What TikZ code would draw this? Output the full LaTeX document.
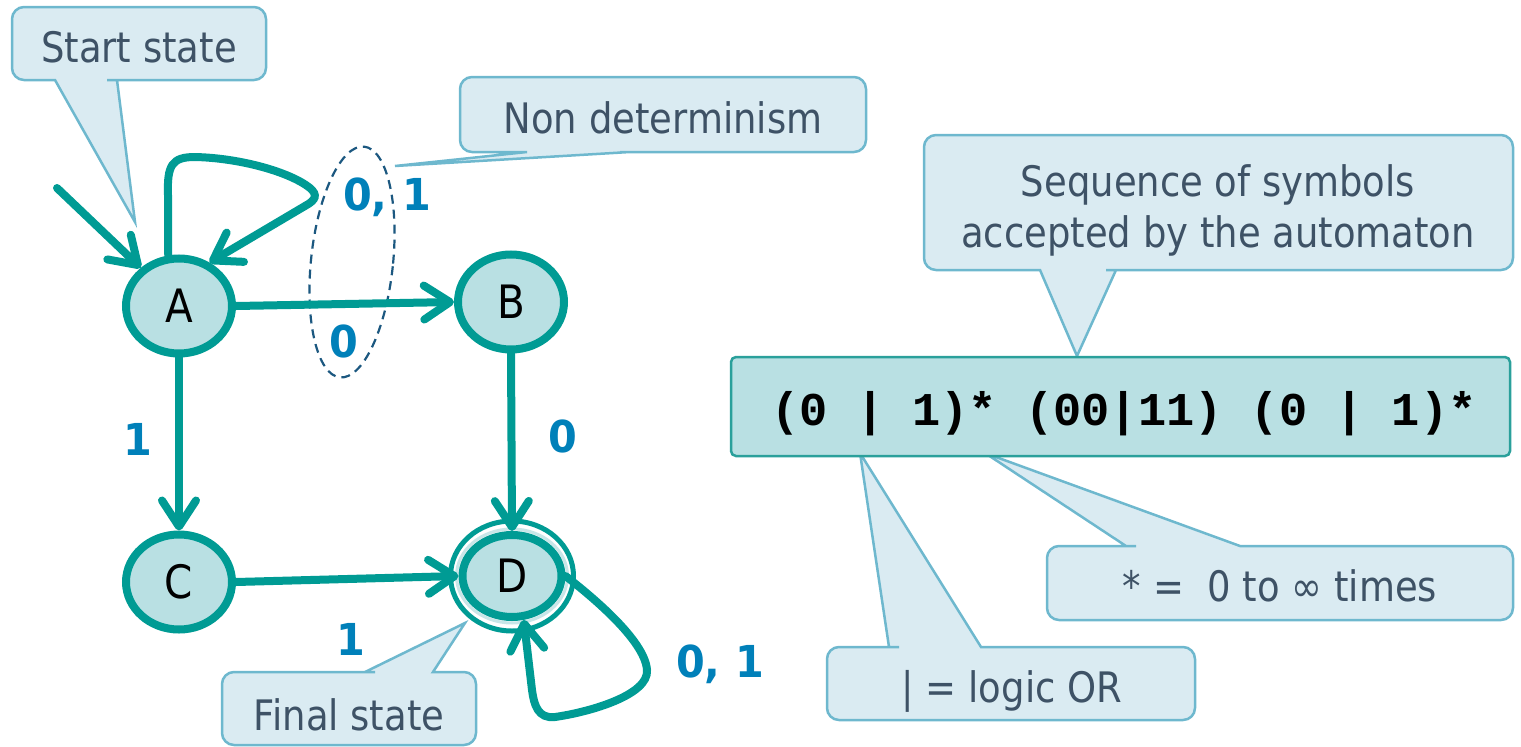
\documentclass[tikz,border=0pt]{standalone}
\usepackage{fontspec}
\setmainfont{DejaVu Sans}[FakeStretch=0.88]
\newfontfamily\lblfont{DejaVu Sans}[FakeStretch=0.94]
\newfontfamily\codefont{Liberation Mono}
\usetikzlibrary{shapes.geometric,arrows.meta}
\definecolor{tealc}{RGB}{0,155,148}
\definecolor{nodefill}{RGB}{185,224,227}
\definecolor{lblblue}{RGB}{0,128,185}
\definecolor{cofill}{RGB}{218,235,242}
\definecolor{cobord}{RGB}{110,184,206}
\definecolor{cotextc}{RGB}{62,82,102}
\definecolor{dashc}{RGB}{28,88,128}
\definecolor{codebord}{RGB}{42,160,155}
\definecolor{glowc}{RGB}{200,230,232}
\begin{document}
\begin{tikzpicture}[x=1pt,y=-1pt,
  callout/.style={draw=cobord,fill=cofill,line width=2.5pt,line join=miter},
  cotext/.style={text=cotextc,font=\fontsize{42}{52}\selectfont,inner sep=0pt,anchor=base},
  stnode/.style={ellipse,draw=tealc,fill=nodefill,line width=8pt,minimum width=106pt,minimum height=95pt,inner sep=0pt,font=\fontsize{46}{50}\selectfont},
  trans/.style={draw=tealc,line width=8pt,line cap=round,-{Straight Barb[length=26pt,width=34pt,round]}},
  lbl/.style={text=lblblue,font=\lblfont\bfseries\fontsize{44}{50}\selectfont,inner sep=0pt,anchor=base},
  ndash/.style={draw=dashc,line width=2.2pt,dash pattern=on 9pt off 6pt}
]
\useasboundingbox (0,0) rectangle (1521,747);

% callouts
\draw[callout] (140,7) [rounded corners=12pt] -- (266,7) -- (266,80) -- (119,80) [sharp corners] -- (117,80) -- (135,222) -- (55,80) -- (53,80) [rounded corners=12pt] -- (12,80) -- (12,7) -- cycle;
\draw[callout] (660,77) [rounded corners=12pt] -- (866,77) -- (866,152) -- (632,152) [sharp corners] -- (630,152) -- (395,166) -- (527,152) -- (525,152) [rounded corners=12pt] -- (460,152) -- (460,77) -- cycle;
\draw[callout] (1200,135) [rounded corners=12pt] -- (1513,135) -- (1513,270) -- (1118,270) [sharp corners] -- (1116,270) -- (1077,356) -- (1040,270) -- (1038,270) [rounded corners=12pt] -- (924,270) -- (924,135) -- cycle;
\draw[callout] (349,745) [rounded corners=12pt] -- (222,745) -- (222,672) -- (363,672) [sharp corners] -- (365,672) -- (465,623) -- (433,672) -- (435,672) [rounded corners=12pt] -- (476,672) -- (476,745) -- cycle;
\draw[callout] (1280,620) [rounded corners=12pt] -- (1047,620) -- (1047,546) -- (1124,546) [sharp corners] -- (1126,546) -- (985,453) -- (1240,546) -- (1242,546) [rounded corners=12pt] -- (1513,546) -- (1513,620) -- cycle;
\draw[callout] (1010,720) [rounded corners=12pt] -- (827,720) -- (827,647) -- (887,647) [sharp corners] -- (889,647) -- (860,453) -- (981,647) -- (983,647) [rounded corners=12pt] -- (1195,647) -- (1195,720) -- cycle;

\node[cotext] (tstart) at (139,62) {Start state};
\node[cotext] (tnd) at (663,133) {Non determinism};
\node[cotext] (tseq1) at (1218,196) {Sequence of symbols};
\node[cotext] (tseq2) at (1218,247) {accepted by the automaton};
\node[cotext] (tfin) at (349,730) {Final state};
\node[cotext] (tstar) at (1280,601) {* =\ \ 0 to ∞ times};
\node[cotext] (tor) at (1012,702) {| = logic OR};

% dashed ellipse
\draw[ndash, rotate around={-6:(352,262)}] (352,262) ellipse [x radius=41, y radius=116];

% D ring
\draw[draw=tealc, fill=white, line width=5pt] (512,576) ellipse [x radius=61.5, y radius=55];
\draw[draw=glowc, line width=3pt] (512,576) ellipse [x radius=55.5, y radius=47];

% states
\node[stnode] (A) at (179,306) {A};
\node[stnode] (B) at (511,302) {B};
\node[stnode] (C) at (179,582) {C};
\node[stnode, minimum width=99pt, minimum height=82pt] (D) at (512,576) {D};

% transitions
\coordinate (s0) at (57,188);
\draw[trans] (s0) -- (A.135);
\draw[trans] (A.102) -- (168,195) .. controls (167,165) and (172,157) .. (195,157) .. controls (240,158) and (290,172) .. (310,188) .. controls (318,195) and (316,200) .. (305,206) -- (A.55);
\draw[trans] (A.east) -- (B.west);
\draw[trans] (A.south) -- (C.north);
\draw[trans] (B.south) -- (D.north);
\draw[trans] (C.east) -- (D.west);
\draw[trans] (D.east) .. controls (590,595) and (645,640) .. (647,670) .. controls (649,695) and (590,712) .. (555,717) .. controls (538,719) and (534,705) .. (532,690) -- (D.-75);

% labels
\node[lbl] (l1) at (387,210) {0, 1};
\node[lbl] (l2) at (344,357) {0};
\node[lbl] (l3) at (138,455) {1};
\node[lbl] (l4) at (563,452) {0};
\node[lbl] (l5) at (351,655) {1};
\node[lbl] (l6) at (720,677) {0, 1};

% regular expression box
\node[draw=codebord, fill=nodefill, line width=2.5pt, rounded corners=5pt, minimum width=779pt, minimum height=99pt] (re) at (1120.5,406.5) {};
\node[anchor=base, inner sep=0pt, font=\codefont\bfseries\fontsize{47}{50}\selectfont] (retext) at (1124,425) {(0 | 1)* (00|11) (0 | 1)*};
\end{tikzpicture}
\end{document}
